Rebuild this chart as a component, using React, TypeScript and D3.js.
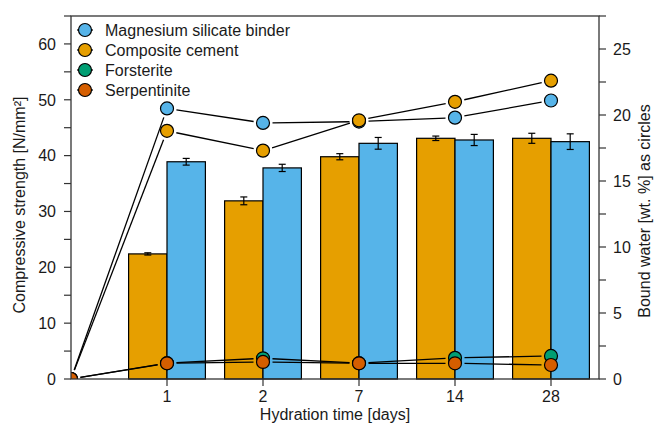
import * as d3 from "d3";

const days = ["1", "2", "7", "14", "28"];

// compressive strength (bars), N/mm²
const cementStrength = [22.4, 31.9, 39.8, 43.1, 43.1];
const cementErr = [0.2, 0.7, 0.55, 0.4, 0.9];
const binderStrength = [38.9, 37.8, 42.2, 42.8, 42.5];
const binderErr = [0.6, 0.65, 1.05, 1.0, 1.4];

// bound water (circles), wt. % — first value is day 0
const binderWater = [0, 20.5, 19.4, 19.5, 19.8, 21.1];
const cementWater = [0, 18.8, 17.3, 19.6, 21.0, 22.6];
const forsteriteWater = [0, 1.2, 1.57, 1.2, 1.6, 1.75];
const serpentiniteWater = [0, 1.19, 1.29, 1.19, 1.19, 1.06];

const leftTicks = [0, 10, 20, 30, 40, 50, 60];
const leftMinor = [5, 15, 25, 35, 45, 55, 65];
const rightTicks = [0, 5, 10, 15, 20, 25];
const rightMinor = [2.5, 7.5, 12.5, 17.5, 22.5, 27.5];

const BLUE = "#56B4E9";
const ORANGE = "#E69F00";
const GREEN = "#009E73";
const RED = "#D55E00";

const W = 654;
const H = 423;
const m = { left: 71, right: 599, top: 16, bottom: 379 };
const font = "'Liberation Sans', Arial, sans-serif";
const fs = 16;
const axisCol = "#333";

export default function App() {
  const x = d3.scaleLinear().domain([0, 5.5]).range([m.left, m.right]);
  const yL = d3.scaleLinear().domain([0, 65]).range([m.bottom, m.top]);
  const yR = d3.scaleLinear().domain([0, 27.5]).range([m.bottom, m.top]);
  const bw = x(0.4) - x(0);
  const r = 6.5;
  const gap = r + 3;

  const series = [
    { name: "Magnesium silicate binder", vals: binderWater, color: BLUE },
    { name: "Composite cement", vals: cementWater, color: ORANGE },
    { name: "Forsterite", vals: forsteriteWater, color: GREEN },
    { name: "Serpentinite", vals: serpentiniteWater, color: RED },
  ];

  const bars = [
    { vals: cementStrength, err: cementErr, color: ORANGE, off: -0.4 },
    { vals: binderStrength, err: binderErr, color: BLUE, off: 0 },
  ];

  const segs = (vals: number[]) => {
    const pts = vals.map((v, i) => [x(i), yR(v)]);
    const out: number[][] = [];
    for (let i = 0; i < pts.length - 1; i++) {
      const [x1, y1] = pts[i];
      const [x2, y2] = pts[i + 1];
      const len = Math.hypot(x2 - x1, y2 - y1);
      if (len <= 2 * gap) continue;
      const ux = (x2 - x1) / len;
      const uy = (y2 - y1) / len;
      out.push([x1 + ux * gap, y1 + uy * gap, x2 - ux * gap, y2 - uy * gap]);
    }
    return out;
  };

  return (
    <svg width={W} height={H} style={{ position: "absolute", left: 0, top: 0 }} fontFamily={font}>
      <defs>
        <clipPath id="plot">
          <rect x={m.left} y={m.top} width={m.right - m.left} height={m.bottom - m.top} />
        </clipPath>
      </defs>
      <rect width={W} height={H} fill="#fff" />

      {/* bars */}
      {bars.map((b, bi) => (
        <g key={bi}>
          {b.vals.map((v, i) => (
            <rect
              key={i}
              x={x(i + 1 + b.off)}
              y={yL(v)}
              width={bw}
              height={yL(0) - yL(v)}
              fill={b.color}
              stroke="#000"
              strokeWidth={1.2}
            />
          ))}
        </g>
      ))}
      {bars.map((b, bi) => (
        <g key={"e" + bi} stroke="#000" strokeWidth={1.2}>
          {b.vals.map((v, i) => {
            const cx = x(i + 1 + b.off) + bw / 2;
            return (
              <g key={i}>
                <line x1={cx} x2={cx} y1={yL(v - b.err[i])} y2={yL(v + b.err[i])} />
                <line x1={cx - 3.5} x2={cx + 3.5} y1={yL(v - b.err[i])} y2={yL(v - b.err[i])} />
                <line x1={cx - 3.5} x2={cx + 3.5} y1={yL(v + b.err[i])} y2={yL(v + b.err[i])} />
              </g>
            );
          })}
        </g>
      ))}

      {/* circles */}
      <g clipPath="url(#plot)">
        {series.map((s) => (
          <g key={s.name}>
            {segs(s.vals).map((sg, i) => (
              <line key={i} x1={sg[0]} y1={sg[1]} x2={sg[2]} y2={sg[3]} stroke="#000" strokeWidth={1.3} />
            ))}
            {s.vals.map((v, i) => (
              <circle key={i} cx={x(i)} cy={yR(v)} r={r} fill={s.color} stroke="#000" strokeWidth={1.2} />
            ))}
          </g>
        ))}
      </g>

      {/* box */}
      <rect
        x={m.left}
        y={m.top}
        width={m.right - m.left}
        height={m.bottom - m.top}
        fill="none"
        stroke={axisCol}
        strokeWidth={1.3}
      />

      {/* ticks */}
      <g stroke={axisCol} strokeWidth={1.2}>
        {[...leftTicks, ...leftMinor].map((t) => (
          <line key={t} x1={m.left - 7} x2={m.left} y1={yL(t)} y2={yL(t)} />
        ))}
        {[...rightTicks, ...rightMinor].map((t) => (
          <line key={t} x1={m.right} x2={m.right + 7} y1={yR(t)} y2={yR(t)} />
        ))}
        {days.map((d, i) => (
          <line key={d} x1={x(i + 1)} x2={x(i + 1)} y1={m.bottom} y2={m.bottom + 7} />
        ))}
      </g>
      <g fontSize={fs} fill="#1a1a1a">
        {leftTicks.map((t) => (
          <text key={t} x={m.left - 15} y={yL(t)} dy="0.36em" textAnchor="end">
            {t}
          </text>
        ))}
        {rightTicks.map((t) => (
          <text key={t} x={m.right + 14} y={yR(t)} dy="0.36em" textAnchor="start">
            {t}
          </text>
        ))}
        {days.map((d, i) => (
          <text key={d} x={x(i + 1)} y={402} textAnchor="middle">
            {d}
          </text>
        ))}
        <text x={(m.left + m.right) / 2} y={420} textAnchor="middle">
          Hydration time [days]
        </text>
        <text transform="translate(25,205) rotate(-90)" textAnchor="middle">
          Compressive strength [N/mm²]
        </text>
        <text transform="translate(650,211) rotate(-90)" textAnchor="middle">
          Bound water [wt. %] as circles
        </text>
      </g>

      {/* legend */}
      <g fontSize={fs} fill="#1a1a1a">
        {series.map((s, i) => {
          const ly = 30 + i * 20;
          return (
            <g key={s.name}>
              <line x1={77} x2={93} y1={ly} y2={ly} stroke="#000" strokeWidth={1.2} />
              <circle cx={85} cy={ly} r={r} fill={s.color} stroke="#000" strokeWidth={1.2} />
              <text x={105} y={ly} dy="0.36em">
                {s.name}
              </text>
            </g>
          );
        })}
      </g>
    </svg>
  );
}
